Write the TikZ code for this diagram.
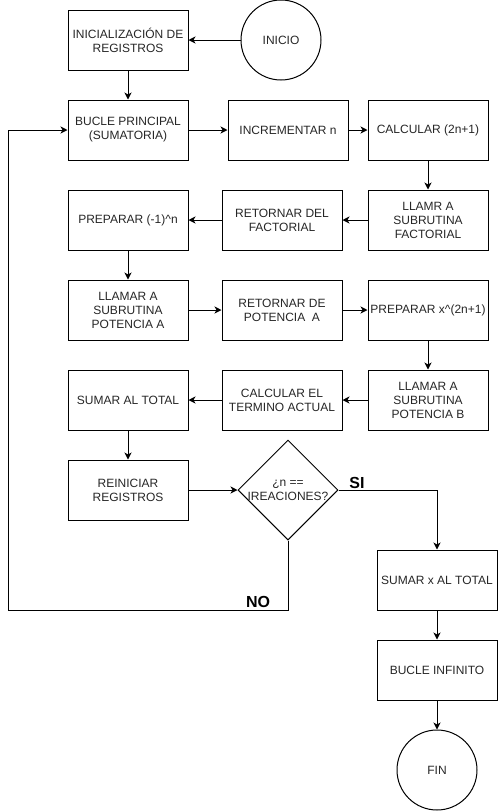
\documentclass[tikz,border=0pt]{standalone}
\usepackage{fontspec}
\setmainfont{Liberation Sans}
\usepackage{tikz}
\usetikzlibrary{arrows.meta,shapes.geometric}

\begin{document}
\begin{tikzpicture}[x=1pt, y=-1pt,
  paso/.style={draw, line width=1pt, minimum width=120pt, minimum height=60pt, inner sep=0pt, align=center, text=black!85, font=\fontsize{12}{14}\selectfont},
  terminal/.style={draw, line width=1pt, circle, minimum size=80pt, inner sep=0pt, text=black!85, font=\fontsize{12}{14}\selectfont},
  decision/.style={draw, line width=1pt, diamond, minimum width=100pt, minimum height=100pt, inner sep=0pt},
  flecha/.style={line width=1pt, -{Stealth[length=7pt,width=7pt,inset=2pt]}},
  rama/.style={font=\fontsize{16}{18}\selectfont\bfseries}]
  \useasboundingbox (0,0) rectangle (499,812);
  \node[terminal] (inicio) at (281,40) {INICIO};
  \node[paso] (init) at (128,40) {INICIALIZACIÓN DE\\REGISTROS};
  \node[paso] (bucle) at (128,130) {BUCLE PRINCIPAL\\(SUMATORIA)};
  \node[paso] (incr) at (288,130) {INCREMENTAR n};
  \node[paso] (calc) at (428,130) {CALCULAR (2n+1)};
  \node[paso] (llamfact) at (428,220) {LLAMR A\\SUBRUTINA\\FACTORIAL};
  \node[paso] (retfact) at (282,220) {RETORNAR DEL\\FACTORIAL};
  \node[paso] (prepsig) at (128,220) {PREPARAR (-1)\^{}n};
  \node[paso] (llampota) at (128,310) {LLAMAR A\\SUBRUTINA\\POTENCIA A};
  \node[paso] (retpota) at (282,310) {RETORNAR DE\\POTENCIA\ \ A};
  \node[paso] (prepx) at (428,310) {PREPARAR x\^{}(2n+1)};
  \node[paso] (llampotb) at (428,400) {LLAMAR A\\SUBRUTINA\\POTENCIA B};
  \node[paso] (term) at (282,400) {CALCULAR EL\\TERMINO ACTUAL};
  \node[paso] (sumar) at (128,400) {SUMAR AL TOTAL};
  \node[paso] (reinic) at (128,490) {REINICIAR\\REGISTROS};
  \node[decision] (dec) at (288,490) {};
  \node[align=center, text=black!85, font=\fontsize{12}{14}\selectfont] (dectxt) at (288,490) {¿n ==\\IREACIONES?};
  \node[paso] (sumx) at (437,580) {SUMAR x AL TOTAL};
  \node[paso] (infinito) at (437,670) {BUCLE INFINITO};
  \node[terminal] (fin) at (437,770) {FIN};
  \node[rama] (si) at (357,483) {SI};
  \node[rama] (no) at (258,602) {NO};
  \coordinate (esq) at (8,610);
  \draw[flecha] (inicio) -- (init);
  \draw[flecha] (init) -- (bucle);
  \draw[flecha] (bucle) -- (incr);
  \draw[flecha] (incr) -- (calc);
  \draw[flecha] (calc) -- (llamfact);
  \draw[flecha] (llamfact) -- (retfact);
  \draw[flecha] (retfact) -- (prepsig);
  \draw[flecha] (prepsig) -- (llampota);
  \draw[flecha] (llampota) -- (retpota);
  \draw[flecha] (retpota) -- (prepx);
  \draw[flecha] (prepx) -- (llampotb);
  \draw[flecha] (llampotb) -- (term);
  \draw[flecha] (term) -- (sumar);
  \draw[flecha] (sumar) -- (reinic);
  \draw[flecha] (reinic) -- (dec.west);
  \draw[flecha] (dec.east) -| (sumx.north);
  \draw[flecha] (dec.south) |- (esq) |- (bucle.west);
  \draw[flecha] (sumx) -- (infinito);
  \draw[flecha] (infinito) -- (fin);
\end{tikzpicture}
\end{document}
